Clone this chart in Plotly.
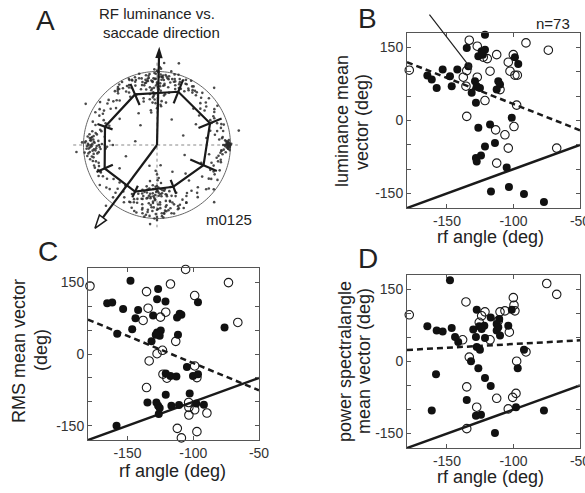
import plotly.graph_objects as go

W, H = 585, 493
FONT = "Liberation Sans, Arial, Helvetica, sans-serif"
INK = "#1a1a1a"

# ---------------- Panel A data (polar, radius in units of the outer circle) ----------------
dot_theta = [
    88,92,95,85,90,97,83,100,78,105,93,87,91,96,80,102,86,99,94,89,
    75,110,72,115,68,120,82,98,84,101,76,108,70,112,65,118,60,125,55,130,
    92,88,95,85,90,104,79,107,73,113,81,94,87,103,77,109,71,116,63,122,
    58,127,52,89,93,84,98,86,91,100,74,106,67,111,62,119,57,124,96,83,
    270,265,275,260,280,268,272,255,285,262,278,250,290,266,274,258,282,245,295,270,
    264,276,252,288,268,273,261,279,248,292,240,300,256,284,270,267,277,263,271,259,
    269,274,257,281,266,286,253,262,276,243,297,271,264,279,258,289,267,273,251,283,
    260,275,248,268,293,255,272,280,265,270,
    180,178,183,176,185,181,172,188,179,184,174,190,177,182,170,195,186,168,200,175,
    181,179,184,176,187,173,192,166,198,183,178,189,171,203,180,
    0,1,-1,2,-2,0,3,-3,1,-1,0,5,-5,10,-8,15,-12,20,-18,8,
    0,2,-2,1,-1,4,-4,12,-15,22,-22,6,-6,17,-10,
    30,38,42,25,35,140,148,155,138,152,210,220,228,215,232,310,318,325,335,330,
    312,322,45,28,145,158,212,225,315,338,33,47,143,135,218,230,307,328,40,150,
    60,130,200,250,300,20,340,100,170,280,45,150,230,315,10,85,265,185,120,75,
]
dot_r = [
    .93,.90,.88,.95,.85,.92,.82,.90,.87,.94,.78,.80,.97,.75,.91,.83,.89,.96,.72,.99,
    .93,.86,.80,.90,.95,.84,.68,.70,.60,.77,.99,.97,.88,.74,.92,.81,.86,.93,.90,.79,
    1.03,1.06,.65,.55,.50,1.00,1.02,.62,.85,.98,.92,.87,.84,.88,.73,.91,.95,.87,.82,.97,
    .94,.88,.86,.64,.69,.89,.91,.93,.81,.86,.90,.79,.83,.95,.99,.75,.89,.92,.58,.96,
    .62,.66,.70,.60,.68,.75,.58,.72,.65,.80,.85,.78,.74,.90,.93,.95,.88,.86,.82,.98,
    .55,.52,.64,.60,1.00,.45,.70,.77,.92,.70,.90,.80,.83,.96,.40,.35,.62,.73,.87,.50,
    .64,.67,.88,.71,.79,.84,.69,.92,.94,.75,.88,.81,.97,.63,.66,.91,.72,.86,.95,.78,
    .99,.60,.84,.57,.93,.76,.69,.90,.85,1.02,
    .90,.85,.93,.80,.88,.95,.87,.82,.75,.70,.92,.90,.97,.78,.83,.86,.99,.90,.84,.65,
    .89,.94,.86,.91,.80,.95,.93,.78,.90,.83,1.02,.96,.72,.87,.60,
    .97,.95,.98,.96,.99,1.00,.94,.97,1.01,.93,.92,.85,.88,.80,.90,.75,.83,.87,.78,.68,
    .96,.98,.95,.99,.97,.93,.91,.92,.86,.80,.92,.89,.94,.95,.72,
    .90,.85,.95,.80,.70,.88,.92,.80,.75,.95,.85,.90,.80,.95,.70,.85,.90,.75,.80,.95,
    .65,.98,.70,.60,.62,.70,.60,.72,.55,.65,.98,.88,.97,.84,.75,.93,.78,.87,.77,.85,
    .40,.35,.45,.30,.42,.38,.40,.45,.30,.28,1.10,1.12,1.08,1.10,1.13,1.12,1.08,1.10,.50,1.15,
]
dot_theta_more = [
    91,86,94,80,99,84,96,77,104,89,93,82,101,75,108,87,95,70,114,66,
    121,90,85,97,79,103,92,88,98,83,111,69,117,61,124,56,128,53,132,49,
    89,94,86,99,81,106,92,84,97,90,73,113,64,119,59,126,87,93,100,78,
    268,271,263,276,259,281,266,273,255,286,262,278,251,291,269,274,257,283,247,297,
    265,270,260,279,254,288,267,272,244,302,261,276,249,285,270,266,275,258,282,238,
    268,264,273,256,280,262,277,253,289,271,
    179,182,177,185,174,188,180,183,171,191,176,186,169,194,181,178,184,173,197,187,
    180,175,182,206,162,
    0,-1,1,0,2,-2,0,1,-1,3,-3,7,-7,13,-13,25,-25,0,4,-4,
    32,36,41,27,44,137,142,147,153,157,208,214,223,229,234,308,314,320,327,333,
    340,345,350,355,15,18,200,205,160,165,
]
dot_r_more = [
    .90,.93,.86,.95,.88,.81,.97,.92,.84,.79,.91,.94,.86,.89,.93,.96,.77,.91,.85,.97,
    .90,.83,.92,.95,.80,.93,.98,.76,.88,.84,.94,.83,.90,.88,.95,.86,.93,.90,.82,.94,
    .71,.67,.74,.63,.70,.66,.57,.53,.79,1.01,1.00,.96,.92,.98,.93,.91,1.04,.62,.48,.59,
    .68,.63,.71,.66,.74,.69,.77,.81,.66,.72,.89,.91,.83,.87,.94,.97,.90,.79,.80,.88,
    .60,.56,.73,.83,.76,.92,.85,.65,.86,.77,.96,.93,.71,.81,.88,.70,.99,.62,.95,.84,
    .74,.82,.78,.58,.61,.67,.90,.96,.88,.48,
    .88,.91,.86,.84,.90,.87,.79,.96,.93,.88,.90,.92,.85,.90,.82,.98,.77,.89,.83,.94,
    .93,.87,.68,.85,.88,
    .96,.97,.95,.99,.97,.96,.94,.98,.99,.96,.97,.90,.87,.84,.89,.86,.85,.90,.98,.99,
    .92,.80,.88,.86,.82,.90,.80,.86,.88,.76,.90,.82,.88,.86,.78,.90,.80,.92,.84,.88,
    .82,.90,.85,.88,.90,.92,.90,.85,.93,.80,
]
poly_theta = [22.3, 68.2, 113.5, 160.6, 204.1, 244.8, 291.4, 336.6]
poly_r = [0.78, 0.78, 0.75, 0.75, 0.78, 0.70, 0.61, 0.69]
poly_err = [0.17, 0.17, 0.156, 0.109, 0.122, 0.088, 0.10, 0.197]
rf_arrow = (88.7, 1.338)      # (theta, r) black arrow tip
sacc_arrow = (233.3, 1.413)   # (theta, r) open arrow tip

# ---------------- Panel B ----------------
b_fill_x = [-121.4,-135.1,-123.9,-121.4,-126.4,-123.1,-98.9,-96.4,-153.2,-164.7,-161.4,-157.7,
            -147.7,-142.2,-146.4,-133.9,-128.9,-125.2,-127.6,-131.4,-128.2,-111.4,-110.1,-112.6,
            -101.3,-117.6,-126.4,-113.9,-121.4,-124.4,-128.2,-127.6,-105.1,-116.9,-103.4,-92.1,-77.1]
b_fill_y = [176.6,149.3,142.5,145.8,132.3,135.5,130.2,116.4,104.7,92.4,84.2,67.1,
            91.2,104.7,70.6,111.7,80.9,67.1,70.6,56.9,36.3,80.9,73.9,63.6,
            5.5,-8.3,-15.1,-46.5,-53.5,-72,-77.3,-84.3,-96.6,-146,-136.9,-151.3,-167.7]
b_open_x = [-133.2,-127.2,-119.7,-122.7,-112.6,-90.6,-73.8,-100.1,-103.9,-102.6,-98.9,-97.1,
            -117.6,-178.3,-137.7,-135.1,-127.2,-135.7,-110.1,-121.4,-97.6,-135.1,-113.4,-99.6,
            -106.4,-103.9,-112.6,-67.5]
b_open_y = [165.1,152.8,127.3,130.2,135.5,159.6,144.6,135.5,119.9,101.4,93.2,93.2,
            101.4,103.5,89.1,102.7,89.1,70.6,63.6,41,31.6,8.5,-19.2,-12.4,
            -29.4,-56.8,-87.6,-56.8]
b_fit_x = [-180, -50]
b_fit_y = [120, -20]
b_arrow_tail = (-164, 221)
b_arrow_head = (-131, 104)

# ---------------- Panel C ----------------
c_fill_x = [-147.7,-126.7,-127.5,-121.1,-110.3,-109,-112.3,-96.4,-165.4,-161.6,-153.3,-141.9,
            -143.9,-130.5,-146.4,-157.8,-127.5,-124.7,-125.5,-128.5,-131.7,-111.6,-76.2,-104.8,
            -120.9,-117.3,-112.8,-100.2,-96.4,-120.9,-102.7,-134.8,-128,-126.7,-125.5,-126.2,
            -116.6,-110.8,-97.7,-91.9,-158.3]
c_fill_y = [153.5,136,114.6,109.8,84,81.9,76.5,108.3,106.3,107.7,94.4,92.3,
            75,80.6,52,42.3,45.2,49.4,38.1,40.2,26.5,40.2,55.6,-27.1,
            -41,-45.8,-47.3,-45.8,-42.3,-85.4,-82.7,-101.5,-101.5,-108.3,-113.1,-125.6,
            -108.3,-106.9,-103.5,-106.3,-150]
c_open_x = [-105.8,-178.5,-135.5,-117.3,-73.2,-98.9,-134.3,-120.9,-124.9,-138.1,-66.1,-113.3,
            -123.4,-127.5,-133.5,-98.9,-123,-120,-97.2,-135.5,-103.5,-103.3,-98.9,-103.3,
            -89.6,-112.1,-97.2,-109]
c_open_y = [177,142.3,130.6,146.5,149.4,122.3,95.8,87.5,77.1,70.2,66,26.5,
            7.7,0.6,-14.6,-25,-42.3,-50.6,-49.4,-70.2,-101.5,-111.9,-116.7,-127.7,
            -123.5,-155.6,-162.5,-175.6]
c_fit_x = [-180, -50]
c_fit_y = [72, -76]

# ---------------- Panel D ----------------
d_fill_x = [-147.7,-127.6,-117.1,-110.7,-164.7,-157.7,-153.2,-146.4,-143.9,-141.5,-130.2,-125.7,
            -121.9,-128.2,-121.4,-123.9,-112.6,-111.4,-112.6,-110.1,-103.9,-101.3,-127.6,-125.2,
            -92.1,-131.9,-126.4,-96.8,-158.2,-121.4,-117.1,-135.1,-161.4,-128.2,-124.4,-98.1,
            -77.1,-113.9]
d_fill_y = [169.1,107.5,91.8,88.3,73.4,64.3,62.3,69.9,50.8,40.5,66.4,73.4,
            74.6,50.8,48.7,67.8,78.1,71.3,64.3,54,74.6,107.5,30.2,24.7,
            24.7,0.6,-13.8,-13.8,-26.7,-34.3,-50.8,-80.1,-102.1,-113,-111,-95.1,
            -102.1,-148.6]
d_open_x = [-178.3,-135.7,-75,-67.5,-100.1,-99.6,-98.9,-121.4,-110.1,-106.4,-123.9,-125.7,
            -111.4,-103.1,-138.2,-117.6,-90.6,-133.2,-97.6,-135.1,-112.6,-100.6,-98.1,-127.6,
            -103.9,-135.1]
d_open_y = [97.2,123.9,162.3,139.7,132.9,117.1,105.4,103.3,103.3,105.4,95.1,81.6,
            84.9,61,45.2,45.2,19.9,9.2,0.6,-52.8,-76.6,-74.6,-66.4,-95.1,
            -98.6,-139.7]
d_fit_x = [-180, -50]
d_fit_y = [24, 44]

identity = [-180, -50]
x_range = [-180, -50]
y_range = [-180, 180]
x_ticks = [-150, -100, -50]
x_ticktext = ["-150", "-100", "-50"]
y_ticks = [-150, -100, -50, 0, 50, 100, 150]
y_ticktext = ["-150", "", "", "0", "", "", "150"]


def px(x, y):
    return x / W, 1 - y / H


fig = go.Figure()

# ---------- Panel A (polar) ----------
circle_theta = list(range(0, 362, 2))
fig.add_trace(go.Scatterpolar(r=[1.14, 0, 1.10], theta=[180, 0, 0], mode="lines",
                              line=dict(color="#888", width=1, dash="dot"), subplot="polar"))
fig.add_trace(go.Scatterpolar(r=[1.12, 0, 1.12], theta=[90, 0, 270], mode="lines",
                              line=dict(color="#888", width=1, dash="dot"), subplot="polar"))
fig.add_trace(go.Scatterpolar(r=[1] * len(circle_theta), theta=circle_theta, mode="lines",
                              line=dict(color="#666", width=1), subplot="polar"))
fig.add_trace(go.Scatterpolar(r=dot_r + dot_r_more, theta=dot_theta + dot_theta_more, mode="markers",
                              marker=dict(size=2.6, color="#2a2a2a", opacity=0.85),
                              subplot="polar", cliponaxis=False))
fig.add_trace(go.Scatterpolar(r=poly_r + [poly_r[0]], theta=poly_theta + [poly_theta[0]],
                              mode="lines", line=dict(color=INK, width=2.2), subplot="polar"))
eb_r, eb_t = [], []
for t, r, e in zip(poly_theta, poly_r, poly_err):
    eb_r += [r - e, r + e, None]
    eb_t += [t, t, None]
fig.add_trace(go.Scatterpolar(r=eb_r, theta=eb_t, mode="lines",
                              line=dict(color=INK, width=2.2), subplot="polar"))
# arrows
fig.add_trace(go.Scatterpolar(r=[0, rf_arrow[1] - 0.1], theta=[rf_arrow[0], rf_arrow[0]], mode="lines",
                              line=dict(color=INK, width=2.2), subplot="polar", cliponaxis=False))
fig.add_trace(go.Scatterpolar(r=[0, sacc_arrow[1] - 0.12], theta=[sacc_arrow[0], sacc_arrow[0]],
                              mode="lines", line=dict(color=INK, width=2.2), subplot="polar",
                              cliponaxis=False))
fig.add_trace(go.Scatterpolar(r=[rf_arrow[1]], theta=[rf_arrow[0]], mode="markers",
                              marker=dict(symbol="arrow", size=12, color=INK,
                                          angle=90 - rf_arrow[0], line=dict(width=0)),
                              subplot="polar", cliponaxis=False))
fig.add_trace(go.Scatterpolar(r=[sacc_arrow[1]], theta=[sacc_arrow[0]], mode="markers",
                              marker=dict(symbol="arrow", size=14, color="white",
                                          angle=90 - sacc_arrow[0], line=dict(width=1.5, color=INK)),
                              subplot="polar", cliponaxis=False))

# ---------- Panels B, C, D ----------
panels = [
    ("x", "y", b_fill_x, b_fill_y, b_open_x, b_open_y, b_fit_x, b_fit_y),
    ("x2", "y2", c_fill_x, c_fill_y, c_open_x, c_open_y, c_fit_x, c_fit_y),
    ("x3", "y3", d_fill_x, d_fill_y, d_open_x, d_open_y, d_fit_x, d_fit_y),
]
for xa, ya, fx, fy, ox, oy, lx, ly in panels:
    fig.add_trace(go.Scatter(x=identity, y=identity, mode="lines", xaxis=xa, yaxis=ya,
                             line=dict(color=INK, width=2.5)))
    fig.add_trace(go.Scatter(x=lx, y=ly, mode="lines", xaxis=xa, yaxis=ya,
                             line=dict(color=INK, width=2.5, dash="6px,4px")))
    fig.add_trace(go.Scatter(x=ox, y=oy, mode="markers", xaxis=xa, yaxis=ya, cliponaxis=False,
                             marker=dict(symbol="circle-open", size=8.5, color=INK,
                                         line=dict(width=1.1, color=INK))))
    fig.add_trace(go.Scatter(x=fx, y=fy, mode="markers", xaxis=xa, yaxis=ya, cliponaxis=False,
                             marker=dict(symbol="circle", size=8, color="#111",
                                         line=dict(width=0))))

boxes = {  # pixel boxes: x0, x1, y0(top), y1(bottom)
    "B": (407, 580, 33, 208),
    "C": (88, 259, 268, 440),
    "D": (407, 580, 275, 448),
}


def axis_common(dom, is_x):
    d = dict(domain=dom, showline=True, linecolor="#555", linewidth=1, mirror="ticks",
             ticks="inside", ticklen=4, tickcolor="#555", showgrid=False, zeroline=False,
             automargin=False, ticklabeloverflow="allow",
             tickfont=dict(family=FONT, size=14, color="#333"), fixedrange=True)
    if is_x:
        d.update(range=x_range, tickvals=x_ticks, ticktext=x_ticktext)
    else:
        d.update(range=y_range, tickvals=y_ticks, ticktext=y_ticktext)
    return d


layout_axes = {}
for key, (xn, yn) in zip(["B", "C", "D"], [("xaxis", "yaxis"), ("xaxis2", "yaxis2"), ("xaxis3", "yaxis3")]):
    x0, x1, y0, y1 = boxes[key]
    xa = axis_common([x0 / W, x1 / W], True)
    ya = axis_common([1 - y1 / H, 1 - y0 / H], False)
    xa["anchor"] = yn.replace("axis", "")
    ya["anchor"] = xn.replace("axis", "")
    layout_axes[xn] = xa
    layout_axes[yn] = ya

R_MAX = 1.45
cx, cy, rpx = 157, 145, 73.5 * R_MAX
polar = dict(
    domain=dict(x=[(cx - rpx) / W, (cx + rpx) / W], y=[1 - (cy + rpx) / H, 1 - (cy - rpx) / H]),
    bgcolor="rgba(0,0,0,0)",
    radialaxis=dict(visible=False, range=[0, R_MAX]),
    angularaxis=dict(visible=False, rotation=0, direction="counterclockwise"),
)

annotations = []


def txt(s, x, y, size, angle=0):
    xp, yp = px(x, y)
    annotations.append(dict(text=s, x=xp, y=yp, xref="paper", yref="paper", showarrow=False,
                            xanchor="center", yanchor="middle", textangle=angle,
                            font=dict(family=FONT, size=size, color="#222")))


txt("A", 45, 20, 28)
txt("B", 367, 19, 28)
txt("C", 48, 251, 28)
txt("D", 368, 258, 28)
txt("RF luminance vs.", 157, 14, 15)
txt("saccade direction", 161, 32, 15)
txt("m0125", 229, 220, 15)
txt("n=73", 553, 23, 15)
txt("rf angle (deg)", 490, 237, 18)
txt("luminance mean", 342, 121, 18, -90)
txt("vector (deg)", 362, 122, 18, -90)
txt("rf angle (deg)", 172, 471, 18)
txt("RMS mean vector", 19, 351, 18, -90)
txt("(deg)", 41, 350, 18, -90)
txt("rf angle (deg)", 490, 477, 18)
txt("power spectralangle", 345, 362, 18, -90)
txt("mean vector (deg)", 364, 361, 18, -90)

annotations.append(dict(x=b_arrow_head[0], y=b_arrow_head[1], ax=b_arrow_tail[0], ay=b_arrow_tail[1],
                        xref="x", yref="y", axref="x", ayref="y", text="", showarrow=True,
                        arrowhead=2, arrowsize=1.1, arrowwidth=1.2, arrowcolor="#222"))

fig.update_layout(
    width=W, height=H, autosize=False, margin=dict(l=0, r=0, t=0, b=0),
    paper_bgcolor="white", plot_bgcolor="white", showlegend=False,
    polar=polar, annotations=annotations, **layout_axes,
)

fig.write_html("out.html", config={"displayModeBar": False},
               post_script="document.body.style.margin='0';")
